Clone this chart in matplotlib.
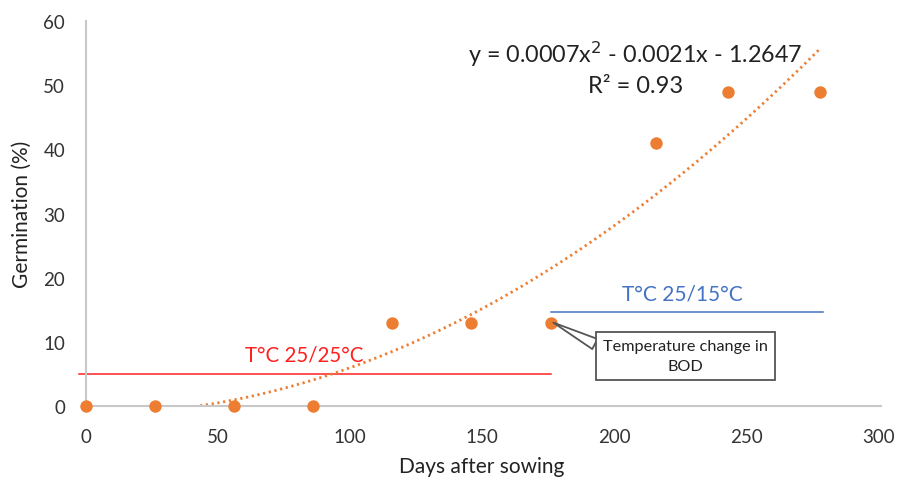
import numpy as np
import matplotlib.pyplot as plt

plt.rcParams['font.family'] = ['Lato', 'DejaVu Sans']

# germination data
days = [0, 26, 56, 86, 116, 146, 176, 216, 243, 278]
germ = [0, 0, 0, 0, 13, 13, 13, 41, 49, 49]

# temperature regimes
regime1_x = [-2.5, 176]
regime1_y = [5, 5]
regime2_x = [176, 279]
regime2_y = [14.6, 14.6]

orange = '#ED7D31'

fig = plt.figure(figsize=(8.99, 4.85), dpi=100)
ax = fig.add_axes([0.0957, 0.1608, 0.881, 0.7938])

# polynomial trendline (order 2), like excel
coef = np.polyfit(days, germ, 2)
xt = np.linspace(min(days), max(days), 400)
yt = np.polyval(coef, xt)
keep = yt >= 0
ax.plot(xt[keep], yt[keep], color=orange, lw=2.0, ls=(0, (0.8, 1.3)), zorder=2)

ax.plot(regime1_x, regime1_y, color='#FF2020', lw=1.1, clip_on=False, zorder=1)
ax.plot(regime2_x, regime2_y, color='#4472C4', lw=1.1, clip_on=False, zorder=1)

ax.scatter(days, germ, s=80, color=orange, zorder=3, clip_on=False, linewidths=0)

ax.text(82.6, 8.1, 'T°C 25/25°C', color='#FF2020', fontsize=14.8, ha='center', va='center')
ax.text(225.7, 17.5, 'T°C 25/15°C', color='#4472C4', fontsize=15, ha='center', va='center')

ax.text(208, 54.9, 'y = 0.0007x$^{2}$ - 0.0021x - 1.2647', fontsize=16.8, ha='center', va='center',
        color='#222222')
ax.text(208, 49.9, 'R² = 0.93', fontsize=17, ha='center', va='center', color='#222222')

ax.annotate('Temperature change in\nBOD', xy=(177, 13), xytext=(227, 7.8),
            fontsize=11.7, ha='center', va='center', color='#222222', linespacing=1.55,
            bbox=dict(boxstyle='square,pad=0.45', fc='white', ec='#555555', lw=1.3),
            arrowprops=dict(arrowstyle='wedge,tail_width=0.7,shrink_factor=0.5', fc='white',
                            ec='#555555', lw=1.3, relpos=(0.0, 0.73), shrinkA=0, shrinkB=0),
            zorder=4)

ax.set_xlim(0, 300)
ax.set_ylim(0, 60)
ax.set_xticks(np.arange(0, 301, 50))
ax.set_yticks(np.arange(0, 61, 10))
ax.tick_params(length=0, labelsize=13.5, colors='#333333')
ax.tick_params(axis='x', pad=16)
ax.tick_params(axis='y', pad=15)

for s in ['top', 'right']:
    ax.spines[s].set_visible(False)
for s in ['left', 'bottom']:
    ax.spines[s].set_color('#C8C8C8')
    ax.spines[s].set_linewidth(1.5)
ax.spines['bottom'].set_bounds(0, 301)

ax.set_xlabel('Days after sowing', fontsize=15, color='#222222', labelpad=8)
ax.set_ylabel('Germination (%)', fontsize=15, color='#222222', labelpad=8)

fig.savefig('out.png', dpi=100)
